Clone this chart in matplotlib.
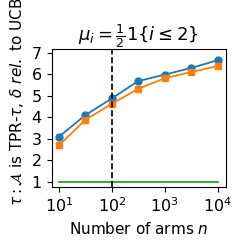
import matplotlib
matplotlib.use("Agg")
import matplotlib.pyplot as plt
import numpy as np

n_arms = [10, 31.6, 100, 316, 1000, 3162, 10000]
tpr_blue = [3.09, 4.10, 4.88, 5.69, 5.99, 6.30, 6.66]
tpr_orange = [2.69, 3.88, 4.63, 5.33, 5.82, 6.11, 6.39]
ucb_green = [1.0, 1.0, 1.0, 1.0, 1.0, 1.0, 1.0]

fig = plt.figure(figsize=(2.41, 2.40), dpi=100)
ax = fig.add_axes([51.5/241, 1-186.7/240, (226-51.5)/241, (186.7-49.5)/240])
ax.plot(n_arms, tpr_blue, marker='o', color='#1f77b4', markersize=5, linewidth=1.3)
ax.plot(n_arms, tpr_orange, marker='s', color='#ff7f0e', markersize=5, linewidth=1.3)
ax.plot(n_arms, ucb_green, color='#2ca02c', linewidth=1.3)
ax.axvline(100, color='black', linestyle='--', linewidth=1.2)
ax.set_xscale('log')
ax.set_xlim(10**0.862, 10**4.157)
ax.set_ylim(0.77, 7.16)
ax.set_yticks([1, 2, 3, 4, 5, 6, 7])
ax.set_xticks([10, 100, 1000, 10000])
ax.tick_params(labelsize=11.5)
ax.set_xlabel(r"Number of arms $n$", fontsize=11)
ax.set_ylabel(r"$\tau: \mathcal{A}$ is TPR-$\tau$, $\delta$ $rel.$ to UCB", fontsize=11, y=0.62)
ax.set_title(r"$\mu_i = \frac{1}{2}1\{i \leq 2\}$", fontsize=13)
fig.savefig("out.png", dpi=100)
